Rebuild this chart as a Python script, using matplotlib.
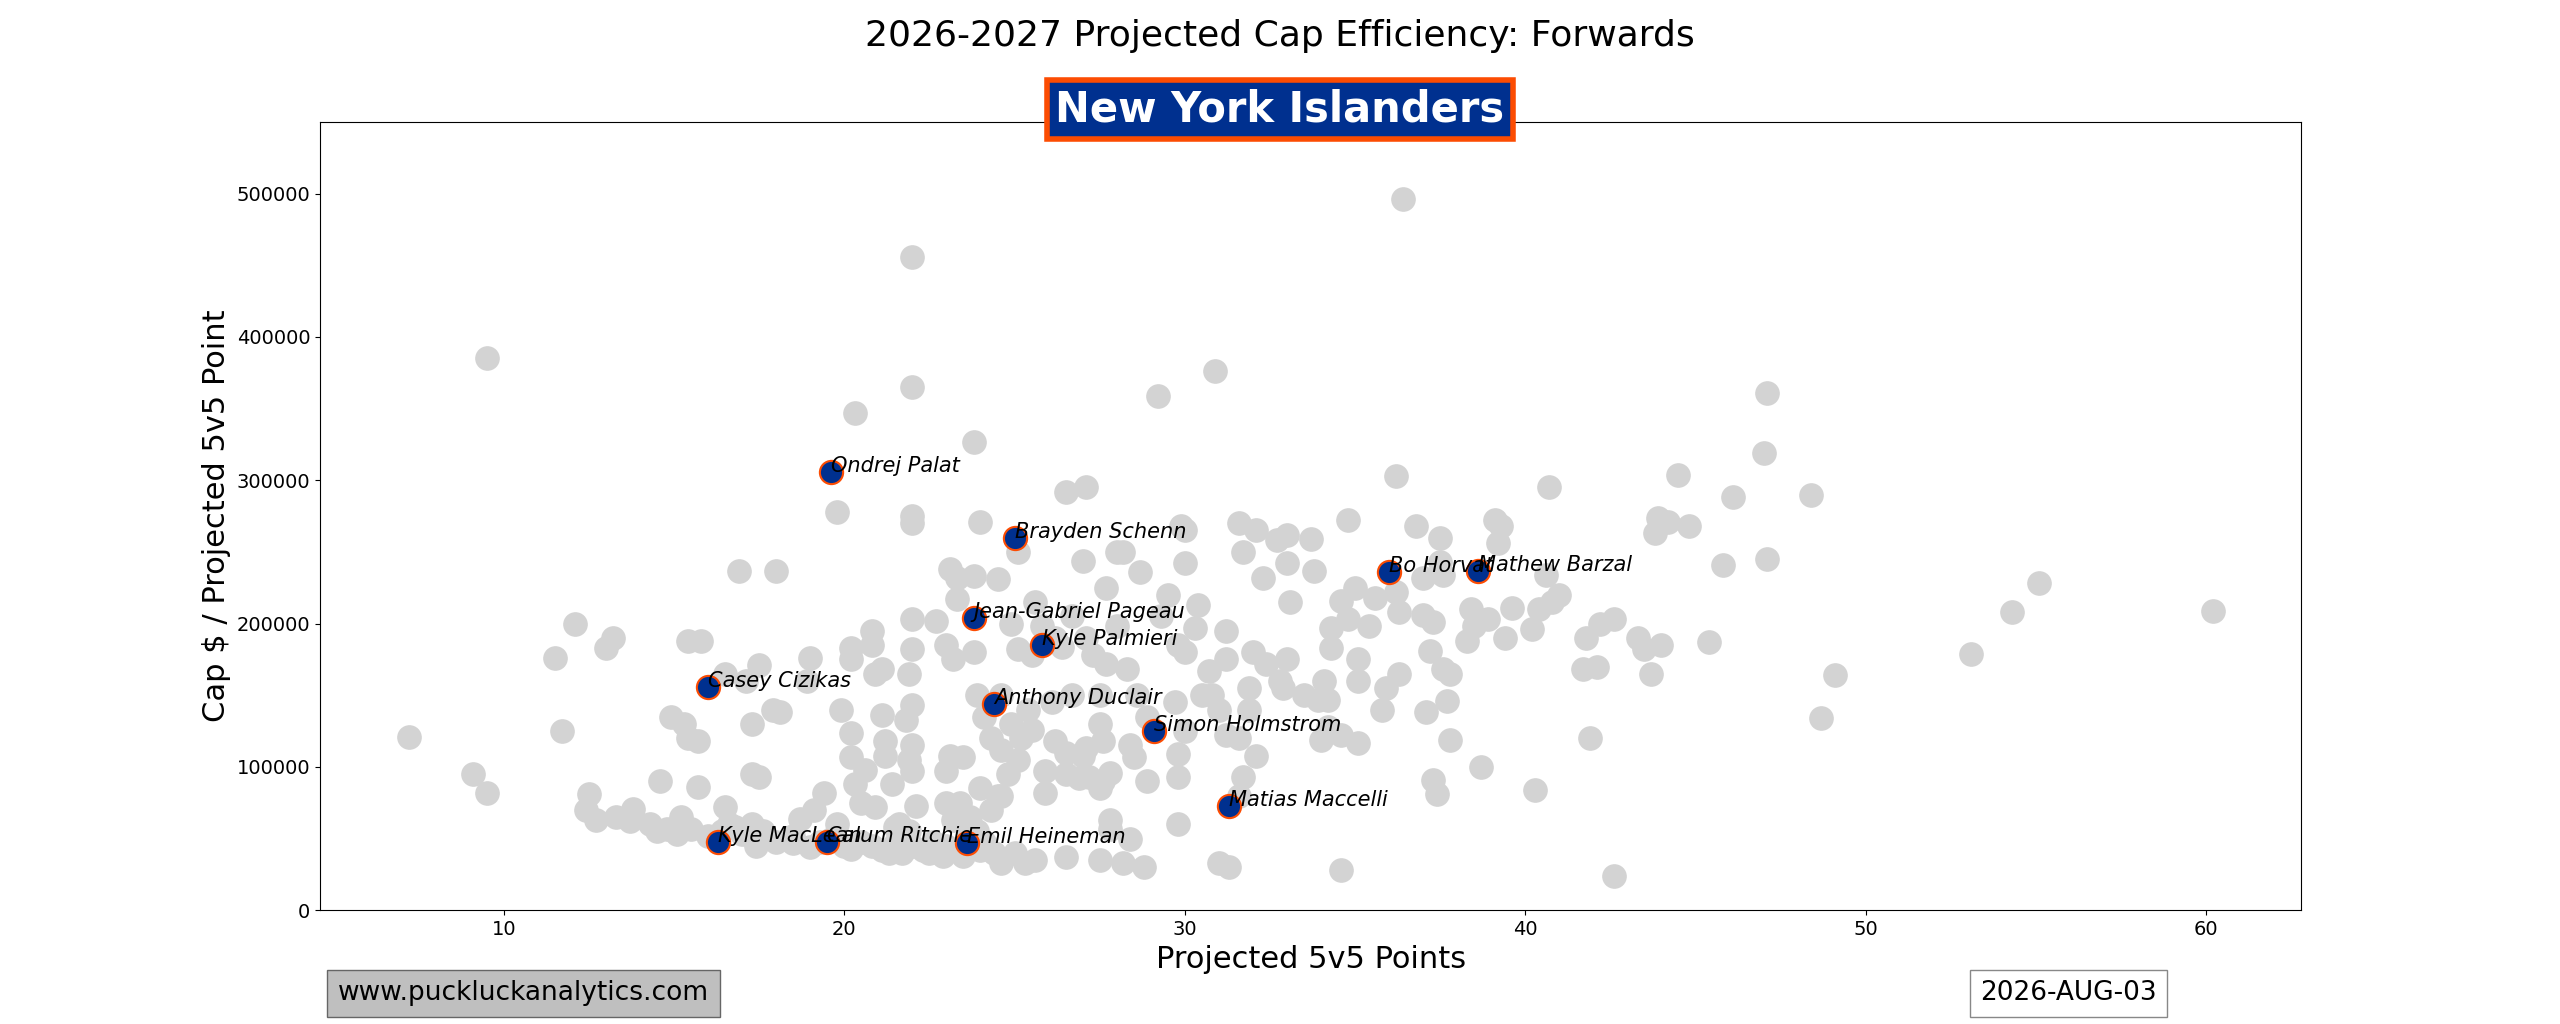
import matplotlib
matplotlib.use("Agg")
import matplotlib.pyplot as plt

gray_pts = [(7.2,121000),(9.1,95000),(9.5,82000),(9.5,385000),(11.5,176000),(11.7,125000),(12.1,200000),(12.4,70000),(12.5,81000),(12.7,63000),(13.0,183000),(13.2,190000),(13.3,65000),(13.7,62000),(13.8,71000),(14.3,60000),(14.5,55000),(14.6,90000),(14.9,135000),(15.2,65000),(15.3,130000),(15.4,188000),(15.4,120000),(15.7,86000),(15.7,118000),(15.8,188000),(16.5,165000),(16.5,72000),(16.9,237000),(17.1,160000),(17.3,95000),(17.3,130000),(17.5,171000),(17.5,93000),(17.9,140000),(18.0,237000),(18.1,138000),(18.9,160000),(19.0,176000),(19.4,82000),(19.8,278000),(19.9,140000),(20.2,175000),(20.2,183000),(20.3,347000),(20.2,107000),(20.2,124000),(20.3,88000),(20.6,98000),(20.8,195000),(20.8,185000),(20.9,165000),(21.1,136000),(21.1,168000),(21.2,118000),(21.2,108000),(21.4,88000),(21.8,133000),(21.9,165000),(22.0,456000),(22.0,365000),(22.0,275000),(22.0,270000),(22.0,203000),(22.0,182000),(22.0,143000),(22.0,115000),(22.0,97000),(22.1,73000),(22.7,202000),(23.0,185000),(23.1,238000),(23.2,175000),(23.1,108000),(23.0,97000),(23.3,217000),(23.3,232000),(23.5,107000),(23.8,327000),(23.8,233000),(23.8,180000),(23.9,150000),(24.0,271000),(24.1,135000),(24.5,231000),(24.6,150000),(24.9,200000),(25.1,250000),(25.1,182000),(25.2,120000),(25.1,105000),(25.4,140000),(25.6,215000),(25.5,178000),(25.8,198000),(25.9,82000),(25.9,97000),(26.2,190000),(26.4,184000),(26.5,292000),(26.7,205000),(27.0,244000),(27.1,295000),(27.1,190000),(27.3,178000),(27.5,130000),(27.7,225000),(27.7,172000),(27.6,118000),(27.8,96000),(27.8,63000),(28.0,250000),(28.0,198000),(28.2,250000),(28.3,168000),(28.7,236000),(28.6,150000),(29.2,359000),(29.3,205000),(29.5,220000),(29.8,185000),(29.8,93000),(29.9,268000),(30.0,265000),(30.0,242000),(30.0,180000),(30.3,197000),(30.4,213000),(30.7,167000),(30.9,376000),(31.2,195000),(31.2,175000),(31.6,270000),(31.7,250000),(32.1,265000),(32.3,232000),(32.0,180000),(32.4,172000),(32.7,258000),(33.0,262000),(33.0,242000),(33.1,215000),(33.0,175000),(33.7,259000),(33.8,237000),(34.3,197000),(34.3,183000),(34.6,216000),(34.8,272000),(34.8,203000),(35.0,225000),(35.1,175000),(35.4,198000),(35.6,218000),(36.2,303000),(36.2,222000),(36.3,208000),(36.4,496000),(36.8,268000),(37.0,232000),(37.0,206000),(37.3,201000),(37.2,181000),(37.5,260000),(37.5,243000),(37.6,234000),(37.6,168000),(37.8,165000),(37.7,146000),(38.3,188000),(38.4,210000),(38.5,198000),(38.9,203000),(39.1,272000),(39.2,256000),(39.3,268000),(39.4,190000),(39.6,211000),(40.2,196000),(40.4,210000),(40.7,295000),(40.6,234000),(40.8,215000),(41.0,220000),(41.7,168000),(41.8,190000),(42.1,170000),(42.2,200000),(42.6,203000),(43.3,190000),(43.5,182000),(43.7,165000),(43.8,263000),(43.9,274000),(44.0,185000),(44.2,271000),(44.5,304000),(44.8,268000),(45.4,187000),(45.8,241000),(46.1,288000),(47.0,319000),(47.1,361000),(47.1,245000),(48.4,290000),(48.7,134000),(49.1,164000),(53.1,179000),(54.3,208000),(55.1,228000),(60.2,209000),
(34.6,28000),(42.6,24000),(40.3,84000),(41.9,120000),(38.7,100000),(37.3,91000),(37.4,81000),(37.8,119000),(37.1,138000),(35.8,140000),(35.1,117000),(34.6,122000),(34.0,119000),(34.2,128000),(33.5,150000),(33.9,147000),(34.2,147000),(34.1,160000),(35.1,160000),(35.9,155000),(36.3,165000),(32.9,155000),(32.8,160000),(31.9,155000),(31.9,140000),(32.1,108000),(31.7,93000),(31.6,80000),(31.0,33000),(31.3,30000),(29.8,60000),(30.0,125000),(29.8,109000),(30.8,150000),(31.0,140000),(31.2,122000),(31.6,120000),(30.5,150000),(29.7,145000),(28.9,135000),(28.4,115000),(28.5,107000),(28.9,90000),(27.5,85000),(27.6,90000),(27.2,93000),(26.9,92000),(27.1,113000),(27.0,108000),(26.5,95000),(26.5,110000),(26.2,118000),(26.7,150000),(27.5,150000),(26.1,145000),(25.5,126000),(24.9,130000),(24.3,120000),(24.6,112000),(24.5,80000),(24.3,70000),(24.0,85000),(23.7,65000),(23.4,75000),(23.0,75000),(23.2,63000),(22.6,48000),(22.9,38000),(23.5,38000),(24.6,33000),(25.3,33000),(25.6,35000),(26.5,37000),(27.5,35000),(28.2,33000),(28.8,30000),(27.8,57000),(28.4,50000),
(14.8,57000),(15.1,53000),(15.5,57000),(16.0,52000),(16.4,55000),(16.8,58000),(17.0,53000),(17.4,45000),(17.6,55000),(18.0,48000),(18.5,47000),(18.7,64000),(19.0,44000),(19.3,48000),(19.6,50000),(19.8,60000),(20.0,45000),(20.2,43000),(20.5,48000),(20.8,45000),(21.1,42000),(21.3,40000),(21.5,46000),(21.7,40000),(22.0,45000),(22.3,42000),(22.5,40000),(23.0,45000),(23.5,44000),(24.0,42000),(24.4,40000),(25.0,40000),(21.6,60000),(21.9,55000),(20.5,75000),(20.9,72000),(21.5,58000),(21.9,105000),(24.8,95000),(24.6,80000),(23.6,58000),(23.9,55000),(24.1,48000),(19.1,70000),(18.5,52000),(16.6,60000),(17.3,60000)]
gray_x = [p[0] for p in gray_pts]
gray_y = [p[1] for p in gray_pts]

team_names = ["Ondrej Palat","Brayden Schenn","Jean-Gabriel Pageau","Kyle Palmieri","Casey Cizikas",
              "Anthony Duclair","Simon Holmstrom","Bo Horvat","Mathew Barzal","Matias Maccelli",
              "Kyle MacLean","Calum Ritchie","Emil Heineman"]
team_x = [19.6,25.0,23.8,25.8,16.0,24.4,29.1,36.0,38.6,31.3,16.3,19.5,23.6]
team_y = [306000,260000,204000,185000,156000,144000,125000,236000,237000,73000,48000,48000,47000]

fig = plt.figure(figsize=(25.6,10.24), dpi=100)
ax = fig.add_axes([0.125,0.111,0.774,0.77])
ax.scatter(gray_x, gray_y, s=280, color='#d3d3d3', zorder=1)
ax.scatter(team_x, team_y, s=280, color='#00308F', edgecolors='#FC4C02', linewidths=1.5, zorder=2)
for n,x,y in zip(team_names, team_x, team_y):
    ax.text(x, y, n, fontsize=15, style='italic', zorder=3)
ax.set_xlim(4.6, 62.8)
ax.set_ylim(0, 550000)
ax.ticklabel_format(style='plain', axis='y')
ax.tick_params(labelsize=14)
ax.set_xlabel("Projected 5v5 Points", fontsize=22)
ax.set_ylabel("Cap $ / Projected 5v5 Point", fontsize=22)
fig.text(0.5, 0.965, "2026-2027 Projected Cap Efficiency: Forwards", ha='center', va='center', fontsize=26)
fig.text(0.5, 0.893, "New York Islanders", ha='center', va='center', fontsize=30, weight='bold', color='white',
         bbox=dict(boxstyle='square,pad=0.2', facecolor='#00308F', edgecolor='#FC4C02', linewidth=4))
fig.text(0.132, 0.03, "www.puckluckanalytics.com", ha='left', va='center', fontsize=19,
         bbox=dict(boxstyle='square,pad=0.4', facecolor='#bfbfbf', edgecolor='#666666'))
fig.text(0.808, 0.03, "2026-AUG-03", ha='center', va='center', fontsize=19,
         bbox=dict(boxstyle='square,pad=0.4', facecolor='white', edgecolor='#888888'))
fig.savefig("out.png", dpi=100)
